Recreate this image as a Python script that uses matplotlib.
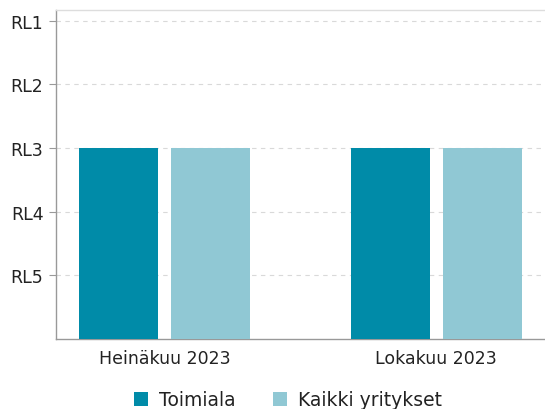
import matplotlib
matplotlib.use("Agg")
import matplotlib.pyplot as plt
import numpy as np

categories = ["Heinäkuu 2023", "Lokakuu 2023"]
series_names = ["Toimiala", "Kaikki yritykset"]
toimiala = [3, 3]
kaikki = [3, 3]
level_labels = ["RL5", "RL4", "RL3", "RL2", "RL1"]
level_values = [1, 2, 3, 4, 5]

colors = ["#008ba8", "#90c8d4"]

fig = plt.figure(figsize=(5.45, 4.10), dpi=100)
ax = fig.add_axes([56/545, 1 - 340/410, (545 - 56)/545, (340 - 11)/410])

x = np.arange(len(categories))
w = 0.29
off = 0.17
ax.bar(x - off, toimiala, width=w, color=colors[0], label=series_names[0], zorder=3)
ax.bar(x + off, kaikki, width=w, color=colors[1], label=series_names[1], zorder=3)

ax.set_xlim(-0.4, 1.4)
ax.set_ylim(0, 5.17)
ax.set_yticks(level_values)
ax.set_yticklabels(level_labels)
ax.set_xticks(x)
ax.set_xticklabels(categories)

ax.yaxis.grid(True, linestyle=(0, (4, 4)), color="#d9d9d9", linewidth=0.8, zorder=0)
ax.tick_params(axis="y", length=5, color="#999999", labelsize=12.5, labelcolor="#222222", pad=4)
ax.tick_params(axis="x", length=0, labelsize=12.5, labelcolor="#222222", pad=7)

for s in ["left", "bottom"]:
    ax.spines[s].set_color("#999999")
    ax.spines[s].set_linewidth(1.0)
ax.spines["top"].set_color("#dddddd")
ax.spines["top"].set_linewidth(1.0)
ax.spines["right"].set_visible(False)

leg = fig.legend(loc="center", bbox_to_anchor=(288/545, 1 - 401/410), ncol=2, frameon=False,
                 fontsize=13.5, handlelength=0.75, handleheight=0.75, handletextpad=0.6,
                 columnspacing=2.0)
for t in leg.get_texts():
    t.set_color("#222222")

fig.savefig("out.png", dpi=100)
